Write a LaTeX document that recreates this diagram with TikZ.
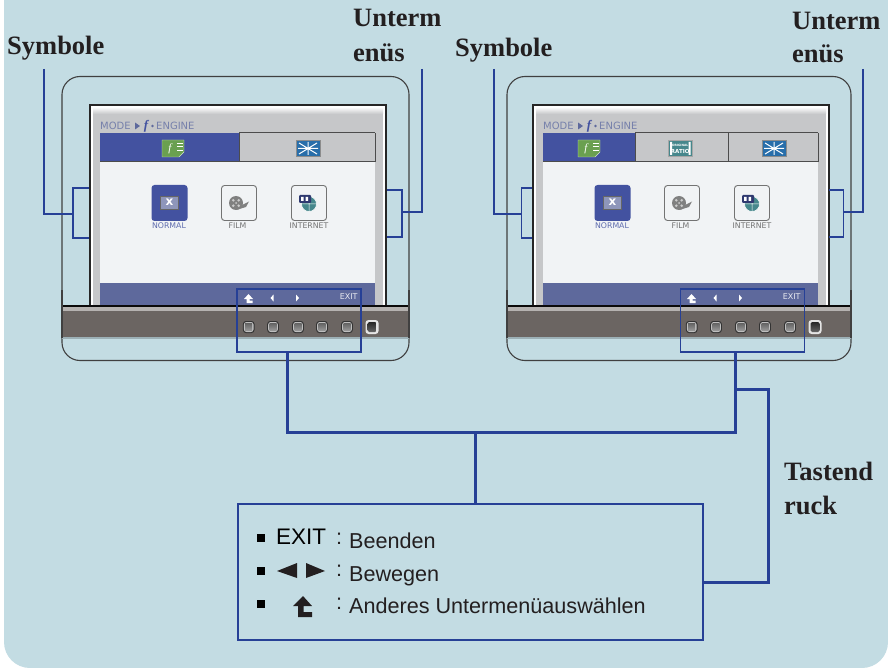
\documentclass[tikz,border=0pt]{standalone}
\usepackage{fontspec}
\setmainfont{Liberation Serif}
\newfontfamily\osdfont{DejaVu Sans}
\newfontfamily\keyfont{Liberation Sans}
\usetikzlibrary{positioning}
\definecolor{panelbg}{RGB}{195,220,227}
\definecolor{linkblue}{RGB}{38,64,150}
\definecolor{tabblue}{RGB}{67,82,160}
\definecolor{barblue}{RGB}{94,105,156}
\definecolor{osdgrey}{RGB}{198,199,201}
\definecolor{screenwhite}{RGB}{241,243,245}
\definecolor{bezelbrown}{RGB}{107,101,98}
\definecolor{inktext}{RGB}{35,31,32}
\definecolor{icongreen}{RGB}{106,160,80}
\definecolor{iconblue}{RGB}{40,110,170}
\definecolor{iconteal}{RGB}{70,135,140}
\tikzset{
  caption/.style={font=\bfseries\fontsize{26.5}{30}\selectfont,text=inktext,inner sep=0pt,anchor=base west},
  link/.style={draw=linkblue,line width=2},
  thinlink/.style={draw=linkblue,line width=1.2},
  fatlink/.style={draw=linkblue,line width=3},
  keybox/.style={draw=linkblue,line width=1.2,minimum width=124,minimum height=63,inner sep=0},
  osdlabel/.style={font=\osdfont\fontsize{10}{11}\selectfont,inner sep=0pt},
  iconlabel/.style={font=\osdfont\fontsize{7.8}{9}\selectfont,inner sep=0pt},
  legend/.style={font=\keyfont\fontsize{21.6}{24}\selectfont,text=inktext,inner sep=0pt,anchor=base west},
  housing/.style={draw=black!75,line width=1.1,rounded corners=18},
}
% green function tab icon, #1 its left side
\newcommand{\greenicon}[1]{
	\fill [icongreen,draw=white!70!icongreen] (#1,140) -- (#1+22,140) -- (#1+22,152) -- (#1+17,157) -- (#1,157) -- cycle;
	\node [font=\itshape\fontsize{11}{11}\selectfont,text=white,inner sep=0pt] at (#1+8,148.5) {f};
	\draw [white,line width=0.9] (#1+15,143) -- (#1+21,143) (#1+15,146.5) -- (#1+21,146.5) (#1+15,150) -- (#1+21,150);
}
% blue burst tab icon, #1 its left side
\newcommand{\bursticon}[1]{
	\fill [iconblue,draw=black!45,line width=0.8] (#1,140.5) rectangle (#1+24,156.5);
	\draw [white,line width=1] (#1+3,143) -- (#1+21,154) (#1+21,143) -- (#1+3,154) (#1+2,148.5) -- (#1+22,148.5) (#1+12,142) -- (#1+12,155);
}
% one monitor: #1 left and #2 right side of the housing, #3 the tabs
\newcommand{\monitorbody}[3]{
	% Housing
	\draw [housing] (#1,300) -- (#1,76.5) -- (#2,76.5) -- (#2,300);
	\draw [housing] (#1,320) -- (#1,360.5) -- (#2,360.5) -- (#2,320);
	\draw [black!75,line width=1.1] (#1,290) -- (#1,330) (#2,290) -- (#2,330);
	% Screen
	\fill [white] (90,105) rectangle (386,306);
	\fill [osdgrey] (93,113) rectangle (383,306);
	\shade [top color=white,bottom color=osdgrey] (93,107) rectangle (383,114);
	\draw [black!85,line width=1.3] (90,306) -- (90,105) -- (386,105) -- (386,306);
	\fill [screenwhite] (100,162) rectangle (375,283);
	\fill [barblue] (100,283) rectangle (375,306);
	\node [osdlabel,text=barblue!85,anchor=west] at (100,126) {MODE};
	\fill [barblue] (135,122.5) -- (140,126) -- (135,129.5) -- cycle;
	\node [font=\bfseries\itshape\fontsize{13}{13}\selectfont,text=tabblue,inner sep=0pt] at (146,126) {f};
	\fill [barblue] (152.5,126) circle [radius=1.3];
	\node [osdlabel,text=barblue!85,anchor=west] at (156,126) {ENGINE};
	#3
	\draw [black!70,line width=1] (100,162) -- (375,162);
	\draw [black!70,line width=1] (375,133) -- (375,162);
	% Icons
	\fill [tabblue,rounded corners=3] (151.5,185) rectangle (187.5,221);
	\fill [black!60] (160,196) rectangle (179,210);
	\fill [barblue!70] (161,197) rectangle (178,209);
	\node [font=\osdfont\bfseries\fontsize{12}{12}\selectfont,text=white,inner sep=0pt] at (169.5,202.5) {x};
	\node [iconlabel,text=tabblue!85] at (169,225.7) {NORMAL};
	\draw [black!55,line width=0.9,fill=screenwhite,rounded corners=3] (221.5,185.5) rectangle (256.5,220.5);
	\fill [black!50] (236,203) circle [radius=7];
	\fill [black!50] (240,206) -- (249,201.5) -- (246,207) -- (236,210) -- cycle;
	\foreach \ang in {45,135,225,315}
		\fill [black!20] (236,203) ++(\ang:3.8) circle [radius=1.4];
	\fill [black!20] (236,203) circle [radius=1];
	\node [iconlabel,text=black!55] at (237.5,225.7) {FILM};
	\draw [black!55,line width=0.9,fill=screenwhite,rounded corners=3] (291.5,185.5) rectangle (326.5,220.5);
	\fill [iconteal] (309,204) circle [radius=7.5];
	\draw [white,line width=0.5] (309,204) circle [radius=7.5] (301.5,204) -- (316.5,204) (309,196.5) -- (309,211.5);
	\fill [tabblue!70!black,rounded corners=1] (299,195) rectangle (311,203);
	\fill [white] (301,197) rectangle (303.5,201) (305.5,197) rectangle (308,201);
	\node [iconlabel,text=black!55] at (309,225.7) {INTERNET};
	% Nav bar glyphs
	\fill [white] (248.5,294) -- (253,299) -- (249.5,299) -- (249.5,300.5) -- (252.5,300.5) -- (252.5,303) -- (246.5,303) -- (246.5,299) -- (244,299) -- cycle;
	\fill [white] (273.5,294.5) -- (273.5,301.5) -- (270.5,298) -- cycle;
	\fill [white] (296,294.5) -- (296,301.5) -- (299,298) -- cycle;
	\node [iconlabel,font=\osdfont\fontsize{8}{9}\selectfont,text=white!85!barblue] at (348.7,297) {EXIT};
	% Bezel
	\fill [bezelbrown] (#1,307) rectangle (#2,337);
	\fill [black!90!bezelbrown] (#1,305) rectangle (#2,307);
	\fill [white!50!bezelbrown] (#1,307) rectangle (#2,311);
	\fill [black!20!panelbg] (#1,337) rectangle (#2,338.5);
	\draw [black!75,line width=1.1] (#1,305) -- (#1,338) (#2,305) -- (#2,338);
	% Buttons
	\foreach \bx in {248.7,273,298,322,347}{
		\fill [black!80,rounded corners=3] (\bx-5.8,321) rectangle (\bx+5.8,333);
		\fill [black!25,rounded corners=2.5] (\bx-4.8,322) rectangle (\bx+4.8,332);
		\shade [top color=black!60,bottom color=black!40] (\bx-3.5,323.5) rectangle (\bx+3.5,330.5);
	}
	\fill [white!90!black,rounded corners=3] (365.5,320) rectangle (378.5,334);
	\shade [top color=black!85,bottom color=black!60,rounded corners=1.5] (367.5,322) rectangle (376.5,332);
}
\begin{document}
\begin{tikzpicture}[x=1pt,y=-1pt]
	\useasboundingbox (0,0) rectangle (888,668);
	% Panel
	\fill [white] (0,0) rectangle (888,668);
	\fill [panelbg,rounded corners=26] (4,-30) rectangle (888,668);

	% Left monitor
	\monitorbody{62}{409}{
		\fill [tabblue] (100,133) rectangle (239,162);
		\draw [black!70,line width=1] (239,133) -- (375,133) (239,133) -- (239,162);
		\greenicon{162}
		\bursticon{296}
	}
	% Right monitor
	\begin{scope}[xshift=443]
		\monitorbody{64}{408}{
			\fill [tabblue] (100,133) rectangle (192,162);
			\draw [black!70,line width=1] (192,133) -- (375,133) (192,133) -- (192,162) (285,133) -- (285,162);
			\greenicon{135}
			\fill [iconteal,draw=black!35,line width=0.8] (225,140.5) rectangle (249.5,156.5);
			\fill [white] (227,142) rectangle (229,155) (245.5,142) rectangle (247.5,155);
			\node [font=\osdfont\bfseries\fontsize{3}{3}\selectfont,text=white,inner sep=0pt] at (237.2,145.5) {ORIGINAL};
			\node [font=\osdfont\bfseries\fontsize{5.5}{5.5}\selectfont,text=white,inner sep=0pt] at (237.2,151) {RATIO};
			\bursticon{319}
		}
	\end{scope}

	% Captions
	\node [caption] (symL) at (7,55) {Symbole};
	\node [caption] (untL) at (353,27) {Unterm};
	\node [caption] (enuL) at (353,62) {enüs};
	\node [caption] (symR) at (455,57) {Symbole};
	\node [caption] (untR) at (792,30) {Unterm};
	\node [caption] (enuR) at (792,63) {enüs};
	\node [caption] (tast) at (784,480) {Tastend};
	\node [caption] (ruck) at (784,514) {ruck};

	% Brackets
	\draw [thinlink] (89,188) -- (73,188) -- (73,238) -- (89,238);
	\draw [link] (44,69) -- (44,214) -- (73,214);
	\draw [thinlink] (387,190) -- (402,190) -- (402,237) -- (387,237);
	\draw [link] (422,69) -- (422,212) -- (402,212);
	\draw [thinlink] (532,188) -- (521.5,188) -- (521.5,238) -- (532,238);
	\draw [link] (494,69) -- (494,214) -- (521.5,214);
	\draw [thinlink] (829,190) -- (843.5,190) -- (843.5,237) -- (829,237);
	\draw [link] (863,69) -- (863,212) -- (843.5,212);

	% Boxes round the keys
	\node [keybox] (keysL) at (299,320.5) {};
	\node [keybox] (keysR) at (742.5,320.5) {};

	% Legend box
	\node [draw=linkblue,line width=2,minimum width=465,minimum height=136,inner sep=0] (legendbox) at (470.5,572) {};
	\coordinate (busL) at (287,432);
	\coordinate (busR) at (735,432);
	\coordinate (busM) at (475.5,432);
	\coordinate (teeR) at (735,389);
	\coordinate (riserR) at (768,389);
	\coordinate (sideR) at (768,582);
	\draw [fatlink] (busL |- keysL.south) -- (busL) -- (busR) -- (busR |- keysR.south);
	\draw [fatlink] (busM) -- (busM |- legendbox.north);
	\draw [fatlink] (teeR) -- (riserR) -- (sideR) -- (sideR -| legendbox.east);

	% Legend entries
	\fill [black] (257,534) rectangle (265,542);
	\fill [black] (257,567) rectangle (265,575);
	\fill [black] (257,600) rectangle (265,608);
	\node [legend,text=black,font=\keyfont\fontsize{22.5}{24}\selectfont] (exitkey) at (276,544.5) {EXIT};
	\fill [inktext] (277,571) -- (297,563) -- (297,578) -- cycle;
	\fill [inktext] (306,563) -- (325,571) -- (306,578) -- cycle;
	\fill [inktext] (303,596) -- (312,606) -- (303.5,606) -- (303.5,612) -- (312,612) -- (312,617) -- (298,617) -- (298,606) -- (293,606) -- cycle;
	\node [legend] (colA) at (336,544) {:};
	\node [legend] (colB) at (336,576) {:};
	\node [legend] (colC) at (336,609) {:};
	\node [legend] (txtA) at (349,548) {Beenden};
	\node [legend] (txtB) at (349,581) {Bewegen};
	\node [legend] (txtC) at (349,613) {Anderes Untermenüauswählen};
\end{tikzpicture}
\end{document}
